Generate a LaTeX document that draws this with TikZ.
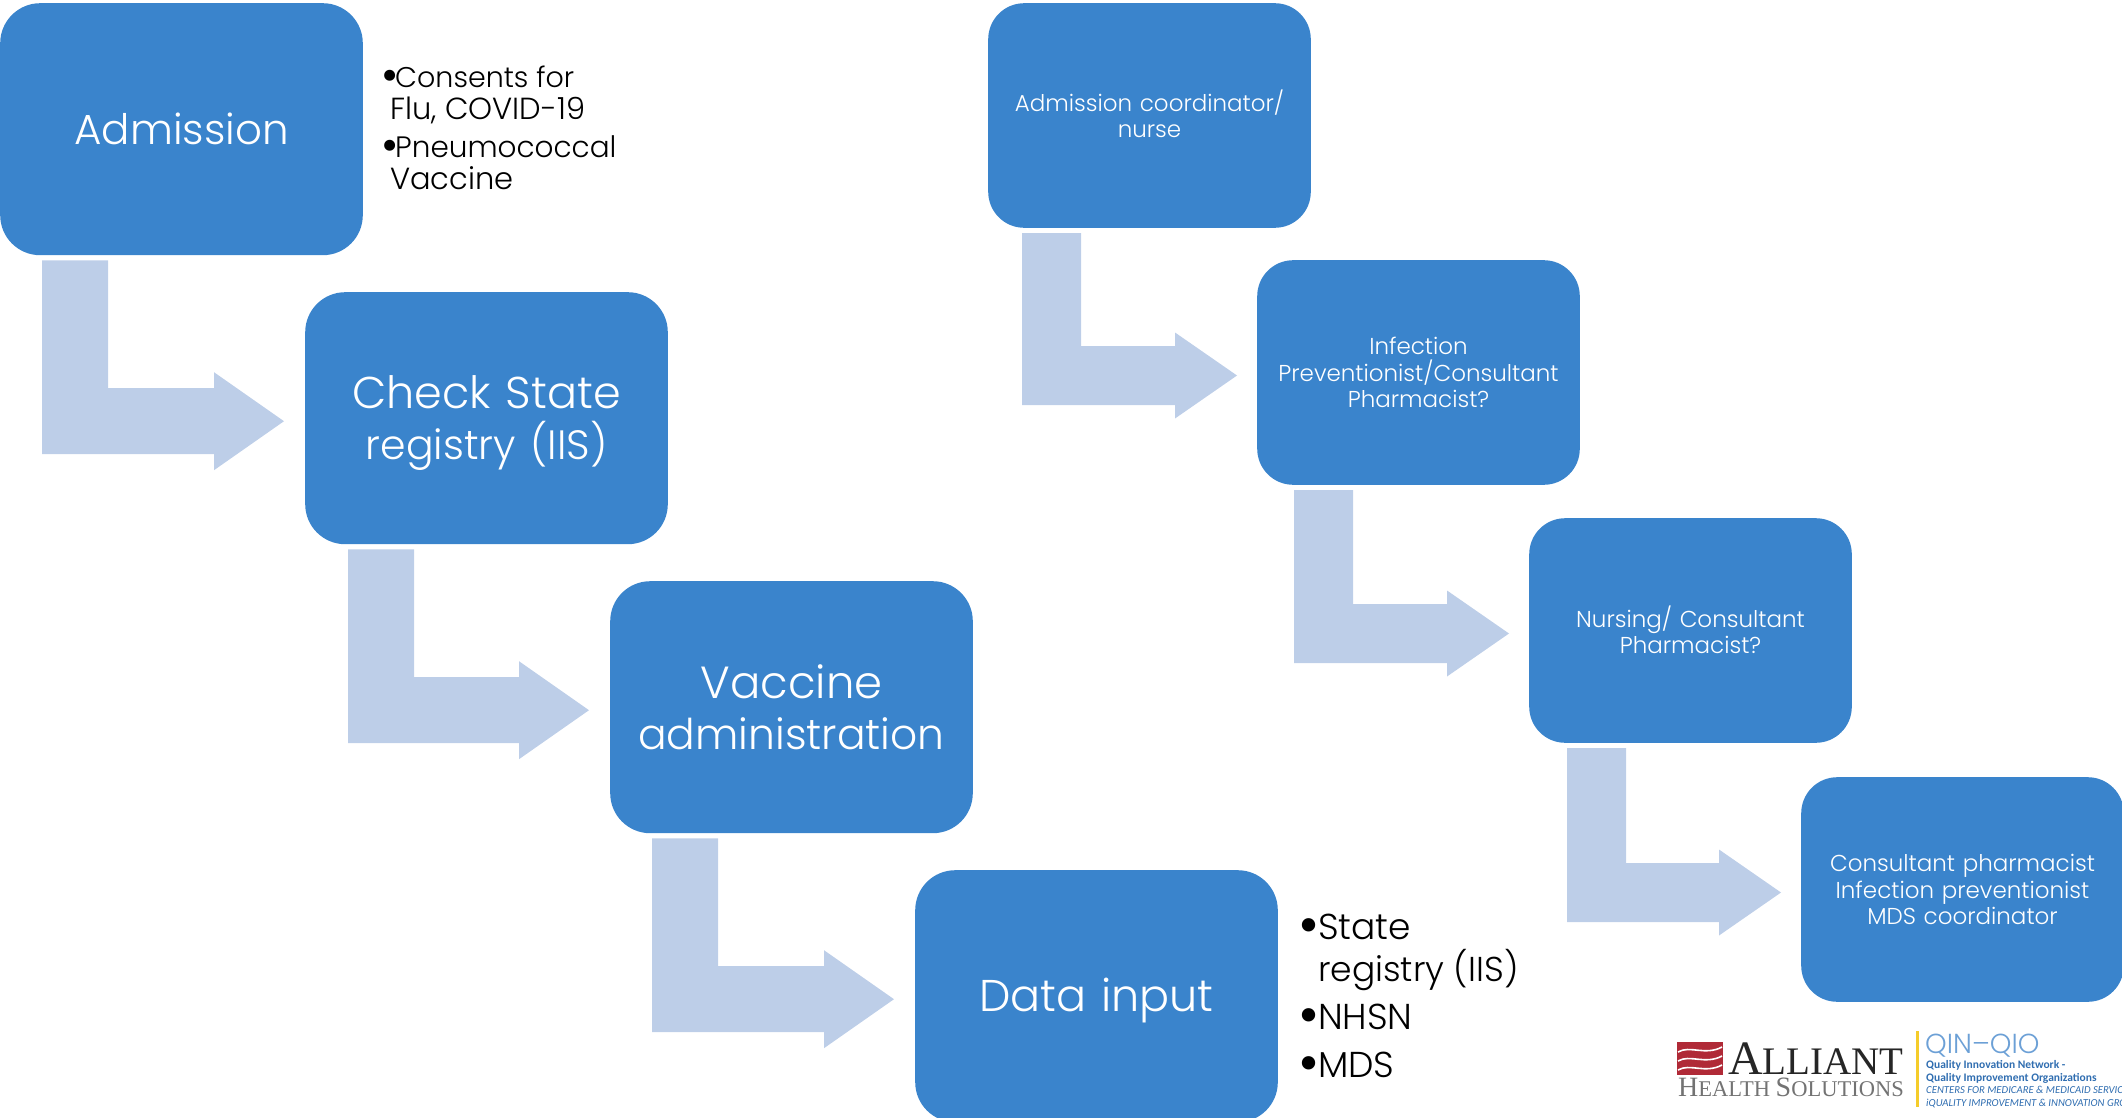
\documentclass[tikz,border=0pt]{standalone}
\usepackage{fontspec}
\setmainfont{Poppins}[UprightFont=* Light]
\newfontfamily\logoserif{Liberation Serif}
\newfontfamily\logosans{Carlito}
\usetikzlibrary{calc}
\definecolor{boxblue}{HTML}{3A84CC}
\definecolor{arrowblue}{HTML}{BDCEE8}
\definecolor{logored}{HTML}{B02A37}
\definecolor{logogold}{HTML}{F5CC2A}
\definecolor{logoblue}{HTML}{2F6DB0}
\definecolor{logolight}{HTML}{6CA0D6}
\tikzset{
  x=1pt,y=-1pt,
  bigbox/.style={anchor=north west,fill=boxblue,rounded corners=40pt,minimum width=362.6pt,minimum height=252pt,text width=345pt,align=center,text=white,inner sep=0pt},
  smallbox/.style={anchor=north west,fill=boxblue,rounded corners=36pt,minimum width=322.6pt,minimum height=224.6pt,text width=300pt,align=center,text=white,inner sep=0pt,font=\fontsize{23}{26.4}\selectfont},
  notes/.style={anchor=north west,align=left,inner sep=0pt,text=black},
  logotext/.style={anchor=base west,inner sep=0pt},
}
\newcommand{\dn}[2]{\raisebox{-#1pt}[\height][\depth]{#2}}
\newcommand{\sz}[2]{{\fontsize{#1}{#1}\selectfont #2}}
\newcommand{\blt}[1]{\makebox[#1pt][l]{\raisebox{-0.14em}{\scalebox{1.6}{•}}}}
\newcommand{\bentarrow}[7]{%
  \path (#1.south west) ++(#3,5) coordinate (s) (#2.west) ++(#4) coordinate (tip);
  \fill[arrowblue] (s) -- ++(#5,0) |- ($(tip)+(-#7,-#5/2+0)$) -- ++(0,{-(#6-#5/2)}) -- (tip) -- ++(-#7,#6) -- ++(0,{-(#6-#5/2)}) -| (s) -- cycle;
}
\begin{document}
\begin{tikzpicture}
\useasboundingbox (0,0) rectangle (2122,1118);
\clip (0,0) rectangle (2122,1118);
\node[bigbox,font=\fontsize{42}{51}\selectfont] (adm) at (0,3) {Admission};
\node[bigbox,font=\fontsize{44.5}{51}\selectfont] (chk) at (305,292) {\dn{5}{Check State}\\\dn{5}{\sz{41}{registry (IIS)}}};
\node[bigbox,font=\fontsize{42.4}{51}\selectfont] (vac) at (610,581) {\sz{45}{Vaccine}\\administration};
\node[bigbox,font=\fontsize{44.5}{51}\selectfont] (dat) at (915,870) {\dn{4}{Data input}};
\node[smallbox] (r1) at (988,3) {\dn{-2}{Admission coordinator/}\\\dn{-2}{nurse}};
\node[smallbox] (r2) at (1257,260) {Infection\\Preventionist/Consultant\\Pharmacist?};
\node[smallbox] (r3) at (1529,518) {\dn{-1}{Nursing/ Consultant}\\\dn{-1}{Pharmacist?}};
\node[smallbox] (r4) at (1801,777) {Consultant pharmacist\\Infection preventionist\\MDS coordinator};
\bentarrow{adm}{chk}{42}{-21,3}{66}{49}{70}
\bentarrow{chk}{vac}{43}{-21,3}{66}{49}{70}
\bentarrow{vac}{dat}{42}{-21,3}{66}{49}{70}
\bentarrow{r1}{r2}{34}{-20,3}{59}{43}{62}
\bentarrow{r2}{r3}{37}{-20,3}{59}{43}{62}
\bentarrow{r3}{r4}{38}{-20,3}{59}{43}{62}
\node[notes,font=\fontsize{29.5}{32}\selectfont] (n1) at (381,66) {\blt{14}\sz{28.5}{Consents for}\\\hspace*{9pt}\sz{30.5}{Flu, COVID-19}\\[6pt]\blt{14}Pneumococcal\\\hspace*{9pt}\sz{30.5}{Vaccine}};
\node[notes,font=\fontsize{36}{42}\selectfont] (n2) at (1298,914) {\blt{20}State\\\hspace*{20pt}\sz{34.5}{registry (IIS)}\\[6pt]\blt{20}NHSN\\[6pt]\blt{20}MDS};
% logo
\fill[logored] (1677,1042) rectangle (1723,1075);
\foreach \yy in {1050,1059,1068}{
  \draw[white,line width=1.6pt] (1678,\yy+2) .. controls (1690,\yy-5) and (1705,\yy+6) .. (1722,\yy-3);
}
\node[logotext,text=black!85] (l1) at (1728,1074) {\logoserif\fontsize{48}{48}\selectfont A\fontsize{39}{39}\selectfont LLIANT};
\node[logotext,text=black!55] (l2) at (1678,1096) {\logoserif\fontsize{28}{28}\selectfont H\fontsize{22.5}{22.5}\selectfont EALTH \fontsize{28}{28}\selectfont S\fontsize{22.5}{22.5}\selectfont OLUTIONS};
\fill[logogold] (1916,1031) rectangle (1919,1107);
\node[logotext,text=logolight] (l3) at (1925,1053) {\fontsize{27.5}{27.5}\selectfont QIN–QIO};
\node[logotext,text=logoblue] (l4) at (1926,1068) {\logosans\bfseries\fontsize{11.5}{11.5}\selectfont Quality Innovation Network -};
\node[logotext,text=logoblue] (l5) at (1926,1081) {\logosans\bfseries\fontsize{11.5}{11.5}\selectfont Quality Improvement Organizations};
\node[logotext,text=logoblue] (l6) at (1926,1093) {\logosans\itshape\fontsize{10.7}{10.7}\selectfont CENTERS FOR MEDICARE \& MEDICAID SERVICES};
\node[logotext,text=logoblue] (l7) at (1926,1106) {\logosans\itshape\fontsize{10.7}{10.7}\selectfont iQUALITY IMPROVEMENT \& INNOVATION GROUP};
\end{tikzpicture}
\end{document}
